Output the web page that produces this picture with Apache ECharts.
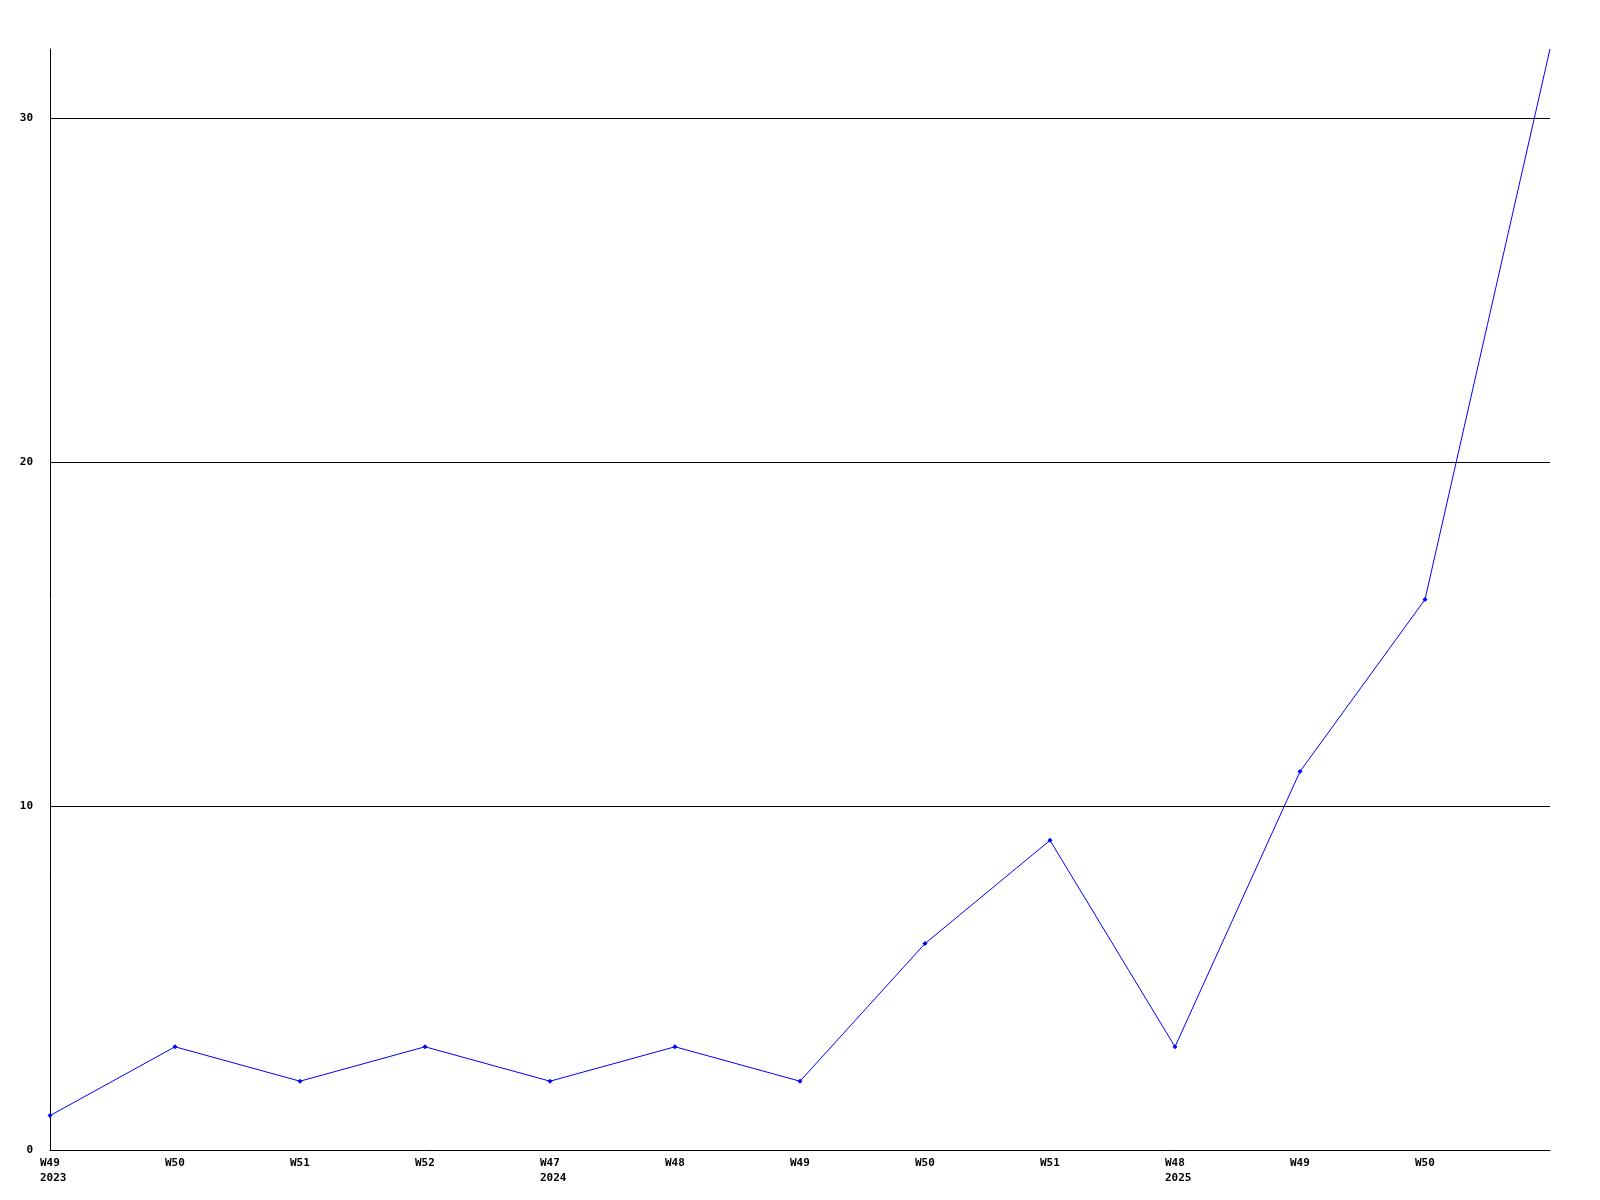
<!DOCTYPE html>
<html>
<head>
<meta charset="utf-8">
<script src="https://cdn.jsdelivr.net/npm/echarts@6/dist/echarts.min.js"></script>
<style>
html,body{margin:0;padding:0;background:#fff;}
#chart{width:1600px;height:1200px;}
</style>
</head>
<body>
<div id="chart"></div>
<script>
var categories = ['W49 2023','W50 2023','W51 2023','W52 2023','W47 2024','W48 2024','W49 2024','W50 2024','W51 2024','W48 2025','W49 2025','W50 2025','W51 2025'];
var tickLabels = ['W49\n2023','W50','W51','W52','W47\n2024','W48','W49','W50','W51','W48\n2025','W49','W50',''];
var values = [1, 3, 2, 3, 2, 3, 2, 6, 9, 3, 11, 16, 32];
var yTicks = [10, 20, 30];

var chart = echarts.init(document.getElementById('chart'));
var font = '"DejaVu Sans Mono", monospace';
chart.setOption({
  animation: false,
  backgroundColor: '#ffffff',
  grid: {left: 50, right: 50, top: 49, bottom: 50, containLabel: false},
  xAxis: {
    type: 'category',
    data: categories,
    boundaryGap: false,
    axisLine: {show: true, lineStyle: {color: '#000', width: 1}},
    axisTick: {show: false},
    splitLine: {show: false},
    axisLabel: {
      interval: 0,
      margin: 6,
      align: 'center',
      formatter: function (v, i) {
        var t = tickLabels[i];
        if (!t) return '';
        return t.split('\n').map(function (s) { return '{a|' + s + '}'; }).join('\n');
      },
      rich: {
        a: {width: 20, align: 'left', fontFamily: font, fontWeight: 'bold', fontSize: 11, color: '#000', lineHeight: 15}
      }
    }
  },
  yAxis: {
    type: 'value',
    min: 0,
    max: 32,
    interval: 10,
    axisLine: {show: true, lineStyle: {color: '#000', width: 1}},
    axisTick: {show: false},
    splitLine: {show: false},
    axisLabel: {
      margin: 17,
      showMaxLabel: false,
      fontFamily: font,
      fontWeight: 'bold',
      fontSize: 11,
      color: '#000',
      formatter: function (v) { return v % 10 === 0 ? String(v) : ''; }
    }
  },
  series: [{
    type: 'line',
    data: values,
    clip: true,
    symbol: function (v, p) { return p.dataIndex === values.length - 1 ? 'none' : 'diamond'; },
    symbolSize: 5,
    showSymbol: true,
    itemStyle: {color: '#0000ff'},
    lineStyle: {color: '#0000ff', width: 1},
    markLine: {
      silent: true,
      symbol: 'none',
      label: {show: false},
      lineStyle: {color: '#000', width: 1, type: 'solid'},
      data: yTicks.map(function (y) { return {yAxis: y}; })
    },
    z: 3
  }]
});
</script>
</body>
</html>
